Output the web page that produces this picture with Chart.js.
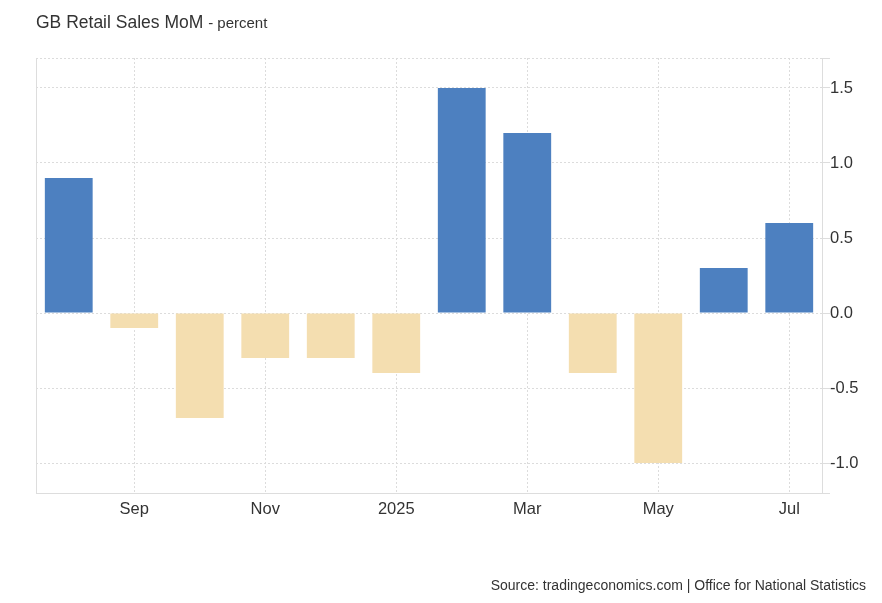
<!DOCTYPE html>
<html>
<head>
<meta charset="utf-8">
<script src="https://cdn.jsdelivr.net/npm/chart.js@4/dist/chart.umd.min.js"></script>
<style>
  body { margin: 0; background: #fff; font-family: "Liberation Sans", Arial, sans-serif; }
  #wrap { position: relative; width: 882px; height: 603px; }
  #title { position: absolute; left: 36px; top: 12px; font-size: 17.5px; color: #333; }
  #title span { font-size: 15px; }
  #source { position: absolute; right: 16px; top: 577px; font-size: 14px; color: #333; }
  #box { position: absolute; left: 0; top: 0; width: 882px; height: 603px; }
</style>
</head>
<body>
<div id="wrap">
  <div id="box"><canvas id="myChart"></canvas></div>
  <div id="title">GB Retail Sales MoM <span>- percent</span></div>
  <div id="source">Source: tradingeconomics.com | Office for National Statistics</div>
</div>
<script>
'use strict';
let months = ['Aug 2024', 'Sep 2024', 'Oct 2024', 'Nov 2024', 'Dec 2024', 'Jan 2025',
    'Feb 2025', 'Mar 2025', 'Apr 2025', 'May 2025', 'Jun 2025', 'Jul 2025'];
let salesMoM = [0.9, -0.1, -0.7, -0.3, -0.3, -0.4, 1.5, 1.2, -0.4, -1.0, 0.3, 0.6];
let xTickLabels = ['', 'Sep', '', 'Nov', '', '2025', '', 'Mar', '', 'May', '', 'Jul'];
let yTicks = [-1.0, -0.5, 0.0, 0.5, 1.0, 1.5];

let barColors = salesMoM.map(v => v >= 0 ? '#4d80c0' : '#f4deb0');

let frame = {
    id: 'frame',
    afterDraw(chart) {
        let a = chart.chartArea;
        let c = chart.ctx;
        c.save();
        c.strokeStyle = '#dddddd';
        c.lineWidth = 1;
        c.beginPath();
        c.moveTo(a.left + 0.5, a.top);
        c.lineTo(a.left + 0.5, a.bottom);
        c.stroke();
        c.restore();
    }
};

var ctx = document.getElementById('myChart').getContext('2d');
var myChart = new Chart(ctx, {
    type: 'bar',
    data: {
        labels: months,
        datasets: [{
            data: salesMoM,
            backgroundColor: barColors,
            borderWidth: 0,
            barPercentage: 0.73,
            categoryPercentage: 1
        }]
    },
    plugins: [frame],
    options: {
        responsive: true,
        maintainAspectRatio: false,
        animation: false,
        layout: { padding: { left: 36, top: 58, right: 0, bottom: 80 } },
        plugins: { legend: { display: false }, tooltip: { enabled: false } },
        scales: {
            x: {
                offset: true,
                grid: {
                    offset: false,
                    drawTicks: false,
                    color: c => xTickLabels[c.index] ? '#dcdcdc' : 'rgba(0,0,0,0)'
                },
                border: { color: '#dddddd', dash: [2, 2] },
                ticks: {
                    autoSkip: false,
                    maxRotation: 0,
                    padding: 7,
                    color: '#333',
                    font: { family: 'Liberation Sans', size: 16.5 },
                    callback: (v, i) => xTickLabels[i]
                },
                afterFit: s => { s.height = 30; }
            },
            y: {
                position: 'right',
                min: -1.2,
                max: 1.7,
                afterBuildTicks: s => {
                    s.ticks = [-1.2].concat(yTicks, [1.7]).map(v => ({ value: v }));
                },
                grid: { color: '#dcdcdc', tickColor: '#dddddd', tickLength: 8, tickBorderDash: [] },
                border: { color: '#dddddd', dash: [2, 2] },
                ticks: {
                    padding: 0,
                    color: '#333',
                    font: { family: 'Liberation Sans', size: 16.5 },
                    callback: v => yTicks.includes(v) ? v.toFixed(1) : ''
                },
                afterFit: s => { s.width = 60; }
            }
        }
    }
});
</script>
</body>
</html>
